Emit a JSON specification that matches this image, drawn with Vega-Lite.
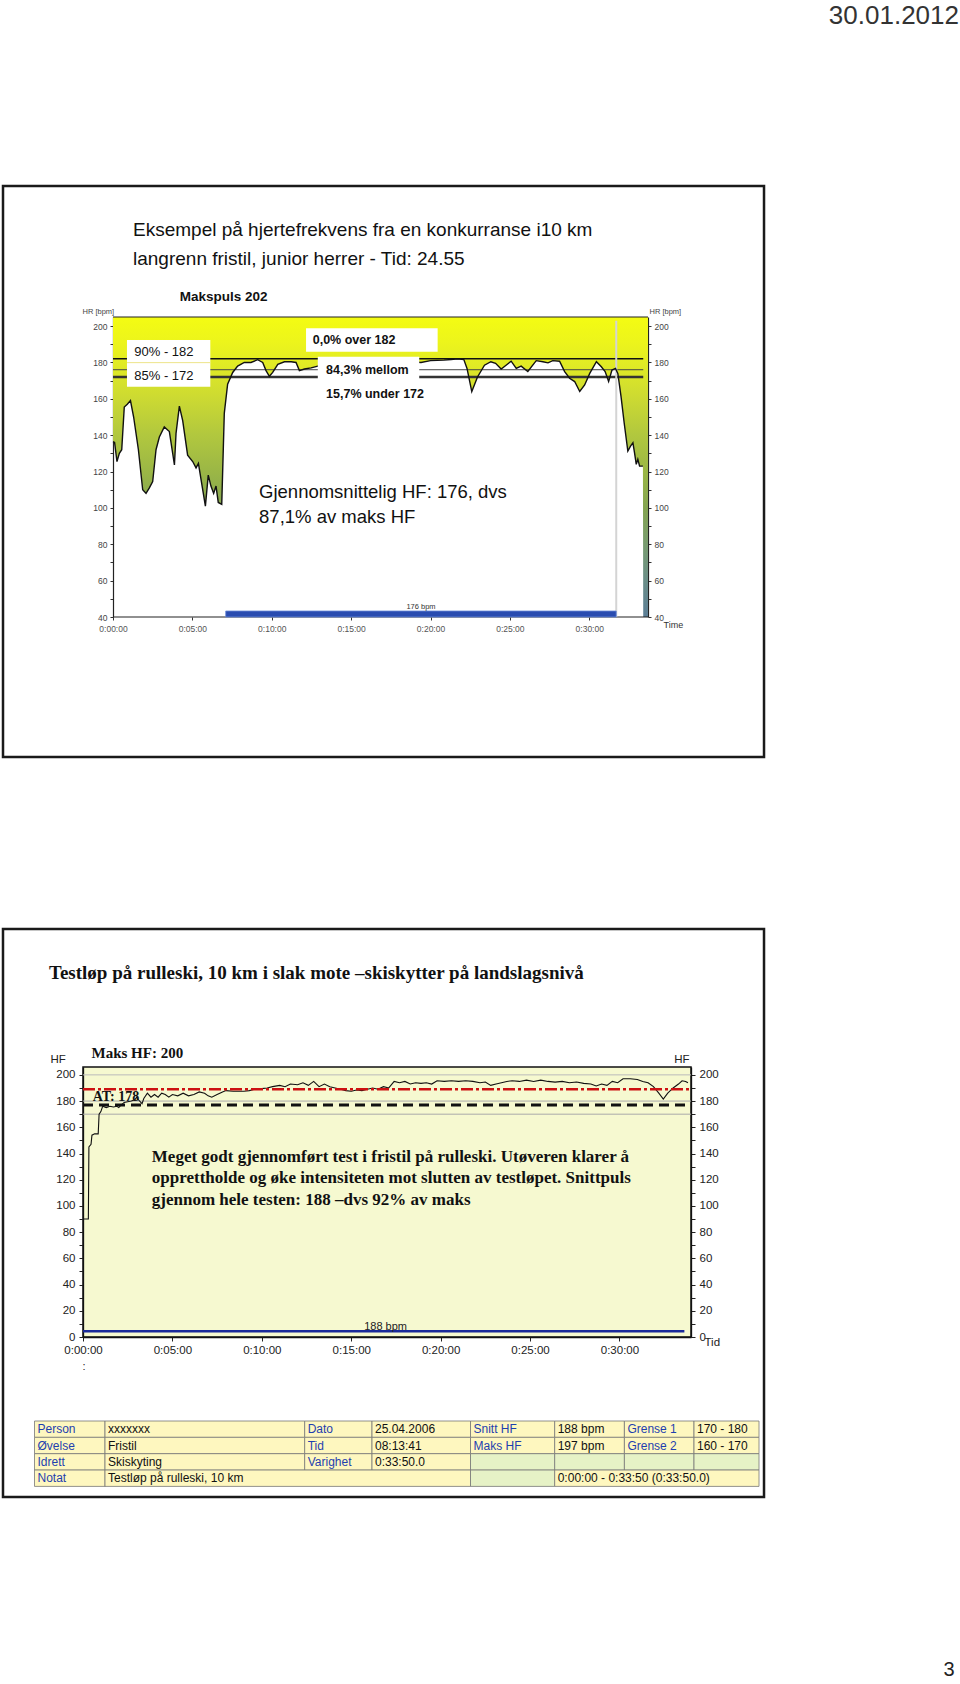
{
"$schema": "https://vega.github.io/schema/vega-lite/v6.json",
"padding": 0,
"background": "white",
"bounds": "flush",
"spacing": 0,
"config": {"view": {"stroke": null}, "font": "Liberation Sans", "axis": {"labelFont": "Liberation Sans", "titleFont": "Liberation Sans"}},
"datasets": {
"hr1": [
{"t":0,"hr":136.4},{"t":0.1,"hr":136},{"t":0.25,"hr":125.5},{"t":0.4,"hr":130},{"t":0.55,"hr":132},{"t":0.71,"hr":155.5},{"t":0.9,"hr":157},{"t":1.1,"hr":159},{"t":1.3,"hr":150},{"t":1.6,"hr":132},{"t":1.87,"hr":110},{"t":2.08,"hr":108},{"t":2.29,"hr":111},{"t":2.5,"hr":114.5},{"t":2.71,"hr":132},{"t":2.92,"hr":139},{"t":3.23,"hr":144.5},{"t":3.55,"hr":142},{"t":3.76,"hr":130},{"t":3.87,"hr":123.6},{"t":3.97,"hr":141},{"t":4.18,"hr":156},{"t":4.39,"hr":148},{"t":4.7,"hr":129},{"t":5.02,"hr":125.5},{"t":5.23,"hr":122},{"t":5.38,"hr":124.5},{"t":5.65,"hr":110},{"t":5.82,"hr":101},{"t":6.0,"hr":118},{"t":6.17,"hr":112},{"t":6.34,"hr":108},{"t":6.49,"hr":112},{"t":6.63,"hr":103},{"t":6.85,"hr":102},{"t":7.01,"hr":152},{"t":7.22,"hr":168},{"t":7.54,"hr":174.5},{"t":7.85,"hr":178},{"t":8.27,"hr":180},{"t":8.69,"hr":180},{"t":9.11,"hr":181.5},{"t":9.43,"hr":180},{"t":9.64,"hr":175.5},{"t":9.85,"hr":172.4},{"t":10.06,"hr":174.5},{"t":10.38,"hr":179},{"t":10.8,"hr":180.4},{"t":11.22,"hr":180.4},{"t":11.53,"hr":180},{"t":11.74,"hr":175.5},{"t":12.06,"hr":176.4},{"t":12.48,"hr":177},{"t":12.9,"hr":178},{"t":13.6,"hr":179},{"t":14.5,"hr":180},{"t":15.5,"hr":180.5},{"t":16.5,"hr":181},{"t":17.5,"hr":180},{"t":18.5,"hr":180.5},{"t":19.4,"hr":180},{"t":20.0,"hr":181},{"t":20.85,"hr":181.3},{"t":21.3,"hr":181.6},{"t":21.7,"hr":182},{"t":22.1,"hr":181.6},{"t":22.3,"hr":176.7},{"t":22.6,"hr":164},{"t":22.96,"hr":172},{"t":23.4,"hr":178.5},{"t":23.8,"hr":180.4},{"t":24.1,"hr":179.5},{"t":24.45,"hr":176.4},{"t":24.76,"hr":178.5},{"t":25.08,"hr":180.7},{"t":25.4,"hr":176.7},{"t":25.71,"hr":178},{"t":26.13,"hr":175},{"t":26.66,"hr":181},{"t":27.08,"hr":180.4},{"t":27.4,"hr":179.8},{"t":27.7,"hr":181},{"t":28.13,"hr":180.7},{"t":28.45,"hr":175},{"t":28.76,"hr":171.3},{"t":29.08,"hr":169.5},{"t":29.4,"hr":164},{"t":29.71,"hr":167.6},{"t":30.03,"hr":174},{"t":30.45,"hr":180.4},{"t":30.76,"hr":177.6},{"t":31.0,"hr":175},{"t":31.22,"hr":169.5},{"t":31.43,"hr":175.8},{"t":31.65,"hr":176.7},{"t":31.8,"hr":174},{"t":32.0,"hr":161.3},{"t":32.2,"hr":146.7},{"t":32.43,"hr":131.3},{"t":32.6,"hr":134},{"t":32.75,"hr":135.8},{"t":32.85,"hr":130.4},{"t":32.96,"hr":124},{"t":33.06,"hr":126.7},{"t":33.17,"hr":123},{"t":33.38,"hr":123},{"t":33.4,"hr":40},{"t":33.7,"hr":40}
],
"hr2": [
{"t":0,"hr":90},{"t":0.3,"hr":90},{"t":0.33,"hr":145},{"t":0.45,"hr":147},{"t":0.5,"hr":154},{"t":0.65,"hr":155},{"t":0.85,"hr":155},{"t":0.9,"hr":170},{"t":1.0,"hr":172},{"t":1.1,"hr":176},{"t":1.3,"hr":175},{"t":1.5,"hr":176},{"t":1.7,"hr":175.5},{"t":1.9,"hr":176},{"t":2.0,"hr":175},{"t":2.1,"hr":176.5},{"t":2.3,"hr":179},{"t":2.5,"hr":179.5},{"t":2.7,"hr":180},{"t":2.9,"hr":181},{"t":3.0,"hr":183},{"t":3.1,"hr":181},{"t":3.3,"hr":178},{"t":3.4,"hr":182},{"t":3.6,"hr":186},{"t":3.8,"hr":183},{"t":4.0,"hr":185},{"t":4.2,"hr":183},{"t":4.4,"hr":186},{"t":4.6,"hr":185},{"t":4.8,"hr":183},{"t":5.0,"hr":185},{"t":5.3,"hr":184},{"t":5.6,"hr":186},{"t":5.9,"hr":184},{"t":6.2,"hr":185},{"t":6.5,"hr":187},{"t":6.8,"hr":186},{"t":7.0,"hr":184},{"t":7.2,"hr":183},{"t":7.5,"hr":185},{"t":7.8,"hr":187},{"t":8.0,"hr":188},{"t":8.4,"hr":187.5},{"t":9.0,"hr":187.5},{"t":9.3,"hr":188},{"t":9.6,"hr":189},{"t":10.0,"hr":189.5},{"t":10.3,"hr":190},{"t":10.6,"hr":191},{"t":11.0,"hr":192},{"t":11.3,"hr":191},{"t":11.6,"hr":193},{"t":12.0,"hr":192.5},{"t":12.3,"hr":194},{"t":12.6,"hr":192},{"t":12.9,"hr":195},{"t":13.2,"hr":191},{"t":13.5,"hr":193},{"t":13.8,"hr":191},{"t":14.1,"hr":190},{"t":14.4,"hr":189},{"t":14.7,"hr":188},{"t":15.0,"hr":187.5},{"t":15.3,"hr":188.5},{"t":15.6,"hr":188},{"t":15.9,"hr":189},{"t":16.2,"hr":190},{"t":16.5,"hr":189},{"t":16.8,"hr":191},{"t":17.1,"hr":190},{"t":17.4,"hr":195},{"t":17.7,"hr":194},{"t":18.0,"hr":195},{"t":18.3,"hr":193},{"t":18.6,"hr":194},{"t":18.9,"hr":193.5},{"t":19.2,"hr":194},{"t":19.5,"hr":193},{"t":19.8,"hr":195.5},{"t":20.2,"hr":195},{"t":20.6,"hr":195.5},{"t":21.0,"hr":195},{"t":21.4,"hr":195.5},{"t":21.8,"hr":195},{"t":22.2,"hr":194},{"t":22.5,"hr":194.5},{"t":22.8,"hr":192},{"t":23.1,"hr":193},{"t":23.4,"hr":194},{"t":23.7,"hr":195},{"t":24.0,"hr":195.5},{"t":24.4,"hr":195},{"t":24.8,"hr":196},{"t":25.2,"hr":195},{"t":25.6,"hr":196},{"t":26.0,"hr":195},{"t":26.4,"hr":194.5},{"t":26.8,"hr":195},{"t":27.2,"hr":194},{"t":27.6,"hr":194.5},{"t":28.0,"hr":193.5},{"t":28.4,"hr":193},{"t":28.7,"hr":191.5},{"t":29.0,"hr":193},{"t":29.3,"hr":192},{"t":29.6,"hr":195},{"t":29.9,"hr":194},{"t":30.2,"hr":197},{"t":30.6,"hr":197},{"t":31.0,"hr":196.5},{"t":31.3,"hr":195},{"t":31.6,"hr":194},{"t":31.9,"hr":191},{"t":32.2,"hr":186},{"t":32.45,"hr":181.5},{"t":32.7,"hr":186},{"t":33.0,"hr":190},{"t":33.3,"hr":193},{"t":33.5,"hr":195.5},{"t":33.7,"hr":195},{"t":33.83,"hr":194}
],
"table": [
{"r":0,"c0":0,"c1":1,"txt":"Person","k":"lab","bg":"y"},
{"r":0,"c0":1,"c1":2,"txt":"xxxxxxx","k":"val","bg":"y"},
{"r":0,"c0":2,"c1":3,"txt":"Dato","k":"lab","bg":"y"},
{"r":0,"c0":3,"c1":4,"txt":"25.04.2006","k":"val","bg":"y"},
{"r":0,"c0":4,"c1":5,"txt":"Snitt HF","k":"lab","bg":"y"},
{"r":0,"c0":5,"c1":6,"txt":"188 bpm","k":"val","bg":"y"},
{"r":0,"c0":6,"c1":7,"txt":"Grense 1","k":"lab","bg":"y"},
{"r":0,"c0":7,"c1":8,"txt":"170 - 180","k":"val","bg":"y"},
{"r":1,"c0":0,"c1":1,"txt":"Øvelse","k":"lab","bg":"y"},
{"r":1,"c0":1,"c1":2,"txt":"Fristil","k":"val","bg":"y"},
{"r":1,"c0":2,"c1":3,"txt":"Tid","k":"lab","bg":"y"},
{"r":1,"c0":3,"c1":4,"txt":"08:13:41","k":"val","bg":"y"},
{"r":1,"c0":4,"c1":5,"txt":"Maks HF","k":"lab","bg":"y"},
{"r":1,"c0":5,"c1":6,"txt":"197 bpm","k":"val","bg":"y"},
{"r":1,"c0":6,"c1":7,"txt":"Grense 2","k":"lab","bg":"y"},
{"r":1,"c0":7,"c1":8,"txt":"160 - 170","k":"val","bg":"y"},
{"r":2,"c0":0,"c1":1,"txt":"Idrett","k":"lab","bg":"y"},
{"r":2,"c0":1,"c1":2,"txt":"Skiskyting","k":"val","bg":"y"},
{"r":2,"c0":2,"c1":3,"txt":"Varighet","k":"lab","bg":"y"},
{"r":2,"c0":3,"c1":4,"txt":"0:33:50.0","k":"val","bg":"y"},
{"r":2,"c0":4,"c1":5,"txt":"","k":"val","bg":"g"},
{"r":2,"c0":5,"c1":6,"txt":"","k":"val","bg":"g"},
{"r":2,"c0":6,"c1":7,"txt":"","k":"val","bg":"g"},
{"r":2,"c0":7,"c1":8,"txt":"","k":"val","bg":"g"},
{"r":3,"c0":0,"c1":1,"txt":"Notat","k":"lab","bg":"y"},
{"r":3,"c0":1,"c1":4,"txt":"Testløp på rulleski, 10 km","k":"val","bg":"y"},
{"r":3,"c0":4,"c1":5,"txt":"","k":"val","bg":"g"},
{"r":3,"c0":5,"c1":8,"txt":"0:00:00 - 0:33:50 (0:33:50.0)","k":"val","bg":"y"}
]
},
"vconcat": [
{
"width": 565, "height": 300,
"resolve": {"axis": {"x": "independent", "y": "independent"}},
"layer": [
{"data": {"values": [{}]}, "mark": {"type": "rect", "fill": "white", "opacity": 0},
 "encoding": {"x": {"datum": -7.055, "axis": null}, "x2": {"datum": 53.417}, "y": {"datum": 379.35, "axis": null}, "y2": {"datum": -546.85}}},
{"data": {"values": [{}]}, "mark": {"type": "rect", "fillOpacity": 0, "stroke": "#1a1a1a", "strokeWidth": 2.5},
 "encoding": {"x": {"datum": -6.929, "axis": null}, "x2": {"datum": 41.008}, "y": {"datum": 277.05, "axis": null}, "y2": {"datum": -37.0}}},
{"data": {"name": "hr1"},
 "mark": {"type": "area", "fill": {"gradient": "linear", "x1": 0, "y1": 0, "x2": 0, "y2": 1, "stops": [
   {"offset": 0, "color": "#F4FC12"}, {"offset": 0.09, "color": "#ECF41C"}, {"offset": 0.15, "color": "#E2EC24"}, {"offset": 0.27, "color": "#CCDA32"}, {"offset": 0.39, "color": "#B2C83E"}, {"offset": 0.52, "color": "#9AB646"}, {"offset": 0.64, "color": "#84A452"}, {"offset": 0.76, "color": "#789C70"}, {"offset": 0.88, "color": "#6A8E88"}, {"offset": 1, "color": "#5C7E96"}]}},
 "encoding": {
   "x": {"field": "t", "type": "quantitative", "scale": {"domain": [-1.8898, 33.7], "nice": false, "zero": false},
     "axis": {"values": [0,5,10,15,20,25,30], "labelExpr": "'0:' + (datum.value < 10 ? '0' : '') + datum.value + ':00'", "grid": false, "domain": false, "tickColor": "#333", "tickSize": 3, "labelPadding": 4, "labelFontSize": 8.5, "labelColor": "#555", "labelFlush": false, "labelOverlap": false, "title": "Time", "titleX": 580, "titleY": 7, "titleAlign": "left", "titleBaseline": "middle", "titleFontSize": 9, "titleFontWeight": "normal", "titleColor": "#333"}},
   "y": {"field": "hr", "type": "quantitative", "scale": {"domain": [40, 205], "nice": false, "zero": false},
     "axis": {"orient": "left", "offset": -30, "values": [40,50,60,70,80,90,100,110,120,130,140,150,160,170,180,190,200], "labelExpr": "datum.value % 20 == 0 ? datum.label : ''", "grid": false, "domainColor": "#222", "domainWidth": 1.2, "tickColor": "#333", "tickSize": 3, "labelPadding": 3, "labelFontSize": 8.5, "labelColor": "#444", "labelOverlap": false, "labelFlush": false, "title": "HR [bpm]", "titleAngle": 0, "titleX": -31, "titleY": -6, "titleAlign": "left", "titleBaseline": "middle", "titleFontSize": 7.5, "titleFontWeight": "normal", "titleColor": "#444"}},
   "y2": {"datum": 205}
 }},
{"data": {"values": [{}]}, "mark": {"type": "rule", "color": "#222", "strokeWidth": 1.2},
 "encoding": {"x": {"datum": 0, "axis": null}, "x2": {"datum": 33.7}, "y": {"datum": 205, "axis": null}}},
{"data": {"values": [{}]}, "mark": {"type": "rule", "color": "#222", "strokeWidth": 1.2},
 "encoding": {"x": {"datum": 0, "axis": null}, "x2": {"datum": 33.7}, "y": {"datum": 40, "axis": null}}},
{"data": {"values": [{}]}, "mark": {"type": "rule", "color": "#111", "strokeWidth": 1.4},
 "encoding": {"x": {"datum": 0, "axis": null}, "x2": {"datum": 33.4}, "y": {"datum": 182, "axis": null}}},
{"data": {"values": [{}]}, "mark": {"type": "rule", "color": "#444", "strokeWidth": 1},
 "encoding": {"x": {"datum": 0, "axis": null}, "x2": {"datum": 33.4}, "y": {"datum": 176, "axis": null}}},
{"data": {"values": [{}]}, "mark": {"type": "rule", "color": "#333", "strokeWidth": 2.5},
 "encoding": {"x": {"datum": 0, "axis": null}, "x2": {"datum": 33.4}, "y": {"datum": 172, "axis": null}}},
{"data": {"values": [{}]}, "mark": {"type": "rule", "color": "#d4d4d4", "strokeWidth": 2},
 "encoding": {"x": {"datum": 31.7, "axis": null}, "y": {"datum": 40, "axis": null}, "y2": {"datum": 203}}},
{"data": {"name": "hr1"}, "transform": [{"filter": "datum.hr > 40"}],
 "mark": {"type": "line", "color": "#111", "strokeWidth": 1.4},
 "encoding": {
   "x": {"field": "t", "type": "quantitative", "axis": null},
   "y": {"field": "hr", "type": "quantitative",
     "axis": {"orient": "right", "values": [40,50,60,70,80,90,100,110,120,130,140,150,160,170,180,190,200], "labelExpr": "datum.value % 20 == 0 ? datum.label : ''", "grid": false, "domainColor": "#222", "domainWidth": 1.2, "tickColor": "#333", "tickSize": 3, "labelPadding": 3, "labelFontSize": 8.5, "labelColor": "#444", "labelOverlap": false, "labelFlush": false, "title": "HR [bpm]", "titleAngle": 0, "titleX": 1, "titleY": -6, "titleAlign": "left", "titleBaseline": "middle", "titleFontSize": 7.5, "titleFontWeight": "normal", "titleColor": "#444"}}
 }},
{"data": {"values": [{}]}, "mark": {"type": "rect", "fill": "#2A4CB0", "stroke": "#6A8AD8", "strokeWidth": 0.8},
 "encoding": {"x": {"datum": 7.1, "axis": null}, "x2": {"datum": 31.7}, "y": {"datum": 40, "axis": null}, "y2": {"datum": 43.3}}},
{"data": {"values": [{}]}, "mark": {"type": "text", "text": "176 bpm", "align": "center", "baseline": "middle", "fontSize": 7.5, "color": "#333"},
 "encoding": {"x": {"datum": 19.4, "axis": null}, "y": {"datum": 45.5, "axis": null}}},
{"data": {"values": [{}]}, "mark": {"type": "rect", "fill": "white"},
 "encoding": {"x": {"datum": 0.88, "axis": null}, "x2": {"datum": 6.13}, "y": {"datum": 192.35, "axis": null}, "y2": {"datum": 166.67}}},
{"data": {"values": [{}]}, "mark": {"type": "rule", "color": "#EDE48A", "strokeWidth": 1},
 "encoding": {"x": {"datum": 0.88, "axis": null}, "x2": {"datum": 6.13}, "y": {"datum": 179.9, "axis": null}}},
{"data": {"values": [{}]}, "mark": {"type": "text", "text": "90% - 182", "align": "left", "baseline": "middle", "fontSize": 13, "color": "#111"},
 "encoding": {"x": {"datum": 1.34, "axis": null}, "y": {"datum": 185.6, "axis": null}}},
{"data": {"values": [{}]}, "mark": {"type": "text", "text": "85% - 172", "align": "left", "baseline": "middle", "fontSize": 13, "color": "#111"},
 "encoding": {"x": {"datum": 1.34, "axis": null}, "y": {"datum": 172.55, "axis": null}}},
{"data": {"values": [{}]}, "mark": {"type": "rect", "fill": "white"},
 "encoding": {"x": {"datum": 12.16, "axis": null}, "x2": {"datum": 20.45}, "y": {"datum": 198.8, "axis": null}, "y2": {"datum": 185.9}}},
{"data": {"values": [{}]}, "mark": {"type": "text", "text": "0,0% over 182", "align": "left", "baseline": "middle", "fontSize": 12.5, "fontWeight": "bold", "color": "#111"},
 "encoding": {"x": {"datum": 12.58, "axis": null}, "y": {"datum": 192.35, "axis": null}}},
{"data": {"values": [{}]}, "mark": {"type": "rect", "fill": "white"},
 "encoding": {"x": {"datum": 12.9, "axis": null}, "x2": {"datum": 19.29}, "y": {"datum": 183.2, "axis": null}, "y2": {"datum": 169.4}}},
{"data": {"values": [{}]}, "mark": {"type": "text", "text": "84,3% mellom", "align": "left", "baseline": "middle", "fontSize": 12.5, "fontWeight": "bold", "color": "#111"},
 "encoding": {"x": {"datum": 13.42, "axis": null}, "y": {"datum": 175.85, "axis": null}}},
{"data": {"values": [{}]}, "mark": {"type": "text", "text": "15,7%  under 172", "align": "left", "baseline": "middle", "fontSize": 12.5, "fontWeight": "bold", "color": "#111"},
 "encoding": {"x": {"datum": 13.42, "axis": null}, "y": {"datum": 162.65, "axis": null}}},
{"data": {"values": [{}]}, "mark": {"type": "text", "text": ["Gjennomsnittelig HF: 176, dvs", "87,1% av maks HF"], "lineHeight": 24.5, "align": "left", "baseline": "alphabetic", "fontSize": 18.5, "color": "#111"},
 "encoding": {"x": {"datum": 9.2, "axis": null}, "y": {"datum": 105.2, "axis": null}}},
{"data": {"values": [{}]}, "mark": {"type": "text", "text": "Makspuls 202", "align": "left", "baseline": "middle", "fontSize": 13.5, "fontWeight": "bold", "color": "#111"},
 "encoding": {"x": {"datum": 4.2, "axis": null}, "y": {"datum": 216, "axis": null}}},
{"data": {"values": [{}]}, "mark": {"type": "text", "text": ["Eksempel på hjertefrekvens fra en konkurranse i10 km", "langrenn fristil, junior herrer  - Tid: 24.55"], "lineHeight": 29, "align": "left", "baseline": "alphabetic", "fontSize": 19, "color": "#111"},
 "encoding": {"x": {"datum": 1.26, "axis": null}, "y": {"datum": 249.8, "axis": null}}},
{"data": {"values": [{}]}, "mark": {"type": "text", "text": "30.01.2012", "align": "right", "baseline": "middle", "fontSize": 26, "color": "#333"},
 "encoding": {"x": {"datum": 53.29, "axis": null}, "y": {"datum": 370.55, "axis": null}}},
{"data": {"values": [{}]}, "mark": {"type": "text", "text": "3", "align": "center", "baseline": "middle", "fontSize": 20, "color": "#222"},
 "encoding": {"x": {"datum": 52.66, "axis": null}, "y": {"datum": -539.15, "axis": null}}}
]
},
{"width": 1, "height": 450, "data": {"values": []}, "mark": "point"},
{
"width": 608, "height": 270,
"view": {"fill": "#F6F9D0", "stroke": "#111", "strokeWidth": 1.5},
"resolve": {"axis": {"x": "independent", "y": "independent"}},
"layer": [
{"data": {"values": [{}]}, "mark": {"type": "rect", "fillOpacity": 0, "stroke": "#1a1a1a", "strokeWidth": 2.5},
 "encoding": {"x": {"datum": -4.474, "axis": null}, "x2": {"datum": 38.083}, "y": {"datum": 311.29, "axis": null}, "y2": {"datum": -122.07}}},
{"data": {"values": [{}]}, "mark": {"type": "rule", "color": "#bbbbbb", "strokeWidth": 1},
 "encoding": {"x": {"datum": 0, "axis": null}, "x2": {"datum": 34}, "y": {"datum": 200,
   "axis": {"orient": "right", "values": [0,10,20,30,40,50,60,70,80,90,100,110,120,130,140,150,160,170,180,190,200], "labelExpr": "datum.value % 20 == 0 ? datum.label : ''", "grid": false, "domainColor": "#111", "domainWidth": 1.3, "tickColor": "#222", "tickSize": 4, "labelPadding": 4, "labelFontSize": 11.5, "labelColor": "#222", "labelOverlap": false, "labelFlush": false, "title": "HF", "titleAngle": 0, "titleX": -2, "titleY": -8, "titleAlign": "right", "titleBaseline": "middle", "titleFontSize": 11.5, "titleFontWeight": "normal", "titleColor": "#222"}}}},
{"data": {"values": [{}]}, "mark": {"type": "rule", "color": "#aaaaaa", "strokeWidth": 1},
 "encoding": {"x": {"datum": 0, "axis": null}, "x2": {"datum": 34}, "y": {"datum": 180, "axis": null}}},
{"data": {"values": [{}]}, "mark": {"type": "rule", "color": "#aaaaaa", "strokeWidth": 1},
 "encoding": {"x": {"datum": 0, "axis": null}, "x2": {"datum": 34}, "y": {"datum": 170, "axis": null}}},
{"data": {"values": [{}]}, "mark": {"type": "rule", "color": "#111", "strokeWidth": 3, "strokeDash": [10, 6]},
 "encoding": {"x": {"datum": 0, "axis": null}, "x2": {"datum": 34}, "y": {"datum": 177, "axis": null}}},
{"data": {"name": "hr2"}, "mark": {"type": "line", "color": "#111", "strokeWidth": 1.1},
 "encoding": {
   "x": {"field": "t", "type": "quantitative", "scale": {"domain": [0, 34], "nice": false, "zero": false},
     "axis": {"values": [0,5,10,15,20,25,30], "labelExpr": "'0:' + (datum.value < 10 ? '0' : '') + datum.value + ':00'", "grid": false, "domainColor": "#111", "domainWidth": 1.3, "tickColor": "#222", "tickSize": 4, "labelPadding": 3, "labelFontSize": 11.5, "labelColor": "#222", "labelFlush": false, "labelOverlap": false, "title": "Tid", "titleX": 621, "titleY": 5, "titleAlign": "left", "titleBaseline": "middle", "titleFontSize": 11.5, "titleFontWeight": "normal", "titleColor": "#222"}},
   "y": {"field": "hr", "type": "quantitative", "scale": {"domain": [0, 206], "nice": false, "zero": false},
     "axis": {"orient": "left", "values": [0,10,20,30,40,50,60,70,80,90,100,110,120,130,140,150,160,170,180,190,200], "labelExpr": "datum.value % 20 == 0 ? datum.label : ''", "grid": false, "domainColor": "#111", "domainWidth": 1.3, "tickColor": "#222", "tickSize": 4, "labelPadding": 4, "labelFontSize": 11.5, "labelColor": "#222", "labelOverlap": false, "labelFlush": false, "title": "HF", "titleAngle": 0, "titleX": -33, "titleY": -8, "titleAlign": "left", "titleBaseline": "middle", "titleFontSize": 11.5, "titleFontWeight": "normal", "titleColor": "#222"}}
 }},
{"data": {"values": [{}]}, "mark": {"type": "rule", "color": "#CC1111", "strokeWidth": 2.5, "strokeDash": [12, 3, 3, 3]},
 "encoding": {"x": {"datum": 0, "axis": null}, "x2": {"datum": 34}, "y": {"datum": 189, "axis": null}}},
{"data": {"values": [{}]}, "mark": {"type": "rule", "color": "#1A2A9A", "strokeWidth": 2.5},
 "encoding": {"x": {"datum": 0, "axis": null}, "x2": {"datum": 33.63}, "y": {"datum": 4.3, "axis": null}}},
{"data": {"values": [{}]}, "mark": {"type": "text", "text": "188 bpm", "align": "center", "baseline": "middle", "fontSize": 11, "color": "#222"},
 "encoding": {"x": {"datum": 16.92, "axis": null}, "y": {"datum": 7.63, "axis": null}}},
{"data": {"values": [{}]}, "mark": {"type": "text", "text": "AT: 178", "align": "left", "baseline": "middle", "fontSize": 14, "font": "Liberation Serif", "fontWeight": "bold", "color": "#111"},
 "encoding": {"x": {"datum": 0.542, "axis": null}, "y": {"datum": 183.1, "axis": null}}},
{"data": {"values": [{}]}, "mark": {"type": "text", "text": ["Meget godt gjennomført test i fristil på rulleski. Utøveren klarer å", "opprettholde og øke intensiteten mot slutten av testløpet. Snittpuls", "gjennom hele testen: 188 –dvs 92% av maks"], "lineHeight": 21.5, "align": "left", "baseline": "alphabetic", "fontSize": 17, "font": "Liberation Serif", "fontWeight": "bold", "color": "#111"},
 "encoding": {"x": {"datum": 3.847, "axis": null}, "y": {"datum": 133.9, "axis": null}}},
{"data": {"values": [{}]}, "mark": {"type": "text", "text": "Maks HF: 200", "align": "left", "baseline": "middle", "fontSize": 15, "font": "Liberation Serif", "fontWeight": "bold", "color": "#111"},
 "encoding": {"x": {"datum": 0.475, "axis": null}, "y": {"datum": 216.45, "axis": null}}},
{"data": {"values": [{}]}, "mark": {"type": "text", "text": "Testløp på rulleski, 10 km i slak mote –skiskytter på landslagsnivå", "align": "left", "baseline": "middle", "fontSize": 19, "font": "Liberation Serif", "fontWeight": "bold", "color": "#111"},
 "encoding": {"x": {"datum": -1.901, "axis": null}, "y": {"datum": 277.72, "axis": null}}},
{"data": {"values": [{}]}, "mark": {"type": "text", "text": ":", "align": "center", "baseline": "middle", "fontSize": 11, "color": "#222"},
 "encoding": {"x": {"datum": 0.056, "axis": null}, "y": {"datum": -22.66, "axis": null}}}
]
},
{"width": 1, "height": 83.6, "data": {"values": []}, "mark": "point"},
{
"width": 676, "height": 65.4,
"data": {"name": "table"},
"layer": [
{"mark": {"type": "rect", "stroke": "#777", "strokeWidth": 0.8},
 "encoding": {
   "x": {"field": "c0", "type": "quantitative", "axis": null, "scale": {"domain": [0,1,2,3,4,5,6,7,8], "range": [-48.5,22,221.7,289,387.5,471.7,541.4,611,676], "nice": false, "zero": false}},
   "x2": {"field": "c1"},
   "y": {"field": "r", "type": "ordinal", "axis": null, "scale": {"paddingInner": 0, "paddingOuter": 0}},
   "fill": {"field": "bg", "type": "nominal", "scale": {"domain": ["y", "g"], "range": ["#FEF7BF", "#E6F2C6"]}, "legend": null}
 }},
{"mark": {"type": "text", "align": "left", "baseline": "middle", "dx": 3, "fontSize": 12},
 "encoding": {
   "x": {"field": "c0", "type": "quantitative", "axis": null},
   "y": {"field": "r", "type": "ordinal", "axis": null},
   "text": {"field": "txt"},
   "color": {"field": "k", "type": "nominal", "scale": {"domain": ["lab", "val"], "range": ["#1F3FAF", "#111111"]}, "legend": null}
 }}
]
}
]
}
